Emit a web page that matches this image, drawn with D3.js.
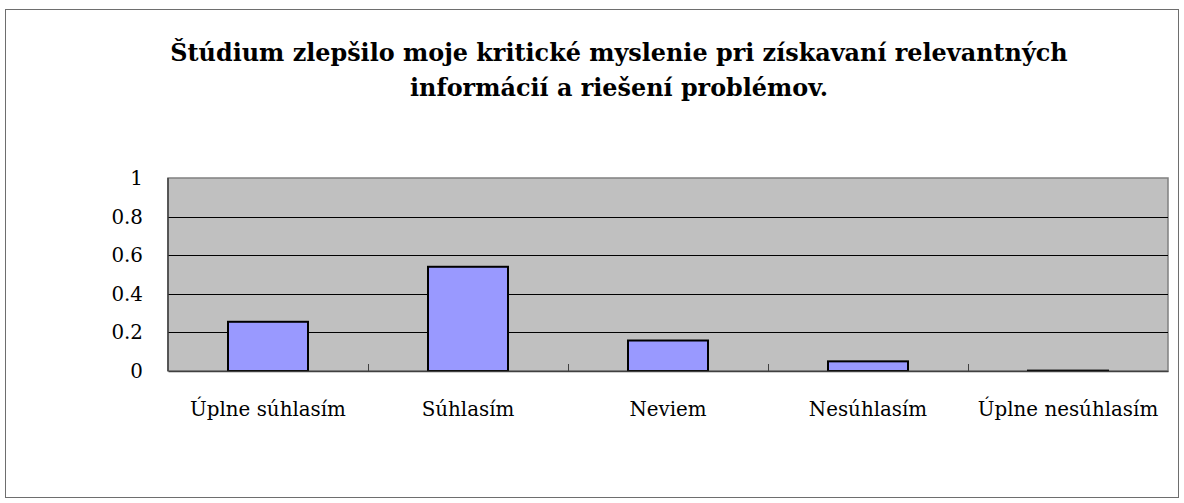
<!DOCTYPE html>
<html><head><meta charset="utf-8">
<script src="https://cdn.jsdelivr.net/npm/d3@7"></script>
<style>html,body{margin:0;padding:0;background:#fff;}svg{display:block;}</style>
</head><body>
<script>
const categories = ["Úplne súhlasím", "Súhlasím", "Neviem", "Nesúhlasím", "Úplne nesúhlasím"];
const values = [0.255, 0.54, 0.158, 0.05, 0.002];
const yTicks = [0, 0.2, 0.4, 0.6, 0.8, 1];
const yTickLabels = ["0", "0.2", "0.4", "0.6", "0.8", "1"];
const titleLines = ["Štúdium zlepšilo moje kritické myslenie pri získavaní relevantných", "informácií a riešení problémov."];

const W = 1184, H = 503;
const svg = d3.select("body").append("svg").attr("width", W).attr("height", H);
const serif = "'DejaVu Serif','Liberation Serif',serif";

function fitSize(text, weight, target) {
  const t = svg.append("text").attr("font-family", serif).attr("font-weight", weight)
    .attr("font-size", 100).text(text);
  const w = t.node().getComputedTextLength();
  t.remove();
  return 100 * target / w;
}
const titleSize = fitSize(titleLines[0], "bold", 898);
const labelSize = fitSize(categories[0], "normal", 156);

svg.append("rect").attr("x", 5.5).attr("y", 9.5).attr("width", 1173).attr("height", 488)
  .attr("fill", "#fff").attr("stroke", "#6e6e6e").attr("stroke-width", 1);

const L = 168, R = 1168, T = 178, B = 371;
const x = d3.scaleBand().domain(categories).range([L, R]).paddingInner(0).paddingOuter(0);
const y = d3.scaleLinear().domain([0, 1]).range([B, T]);

svg.append("rect").attr("x", L).attr("y", T).attr("width", R - L).attr("height", B - T)
  .attr("fill", "#c0c0c0").attr("stroke", "#808080").attr("stroke-width", 1.5);

// gridlines
svg.append("g").selectAll("line").data(yTicks.filter(d => d > 0 && d < 1)).join("line")
  .attr("x1", L).attr("x2", R).attr("y1", d => Math.round(y(d)) + 0.5).attr("y2", d => Math.round(y(d)) + 0.5)
  .attr("stroke", "#000").attr("stroke-width", 1);

// bars
const bw = x.bandwidth() * 0.4;
svg.append("g").selectAll("rect").data(values).join("rect")
  .attr("x", (d, i) => x(categories[i]) + (x.bandwidth() - bw) / 2)
  .attr("width", bw)
  .attr("y", d => y(d))
  .attr("height", d => B - y(d))
  .attr("fill", "#9999ff").attr("stroke", "#000").attr("stroke-width", 2);

// x axis
const xAxis = d3.axisBottom(x).tickSize(0).tickFormat("");
const gx = svg.append("g").attr("transform", `translate(0,${B})`).call(xAxis);
gx.select(".domain").attr("stroke", "#404040").attr("stroke-width", 1.5);
svg.append("g").selectAll("line").data(categories.slice(1)).join("line")
  .attr("x1", d => x(d) + 0.5).attr("x2", d => x(d) + 0.5).attr("y1", B).attr("y2", B - 7)
  .attr("stroke", "#404040").attr("stroke-width", 1);
svg.append("g").selectAll("text").data(categories).join("text")
  .attr("x", d => x(d) + x.bandwidth() / 2).attr("y", 416)
  .attr("text-anchor", "middle").attr("font-family", serif).attr("font-size", labelSize).attr("fill", "#000")
  .text(d => d);

// y axis
const gy = svg.append("g");
gy.append("line").attr("x1", L).attr("x2", L).attr("y1", T).attr("y2", B)
  .attr("stroke", "#404040").attr("stroke-width", 1.5);
gy.selectAll("text").data(yTicks).join("text")
  .attr("x", 143).attr("y", d => y(d) + 7)
  .attr("text-anchor", "end").attr("font-family", serif).attr("font-size", labelSize).attr("fill", "#000")
  .text((d, i) => yTickLabels[i]);

// title
svg.append("g").selectAll("text").data(titleLines).join("text")
  .attr("x", 619).attr("y", (d, i) => 61 + i * 35)
  .attr("text-anchor", "middle").attr("font-family", serif).attr("font-weight", "bold")
  .attr("font-size", titleSize).attr("fill", "#000").text(d => d);
</script>
</body></html>
